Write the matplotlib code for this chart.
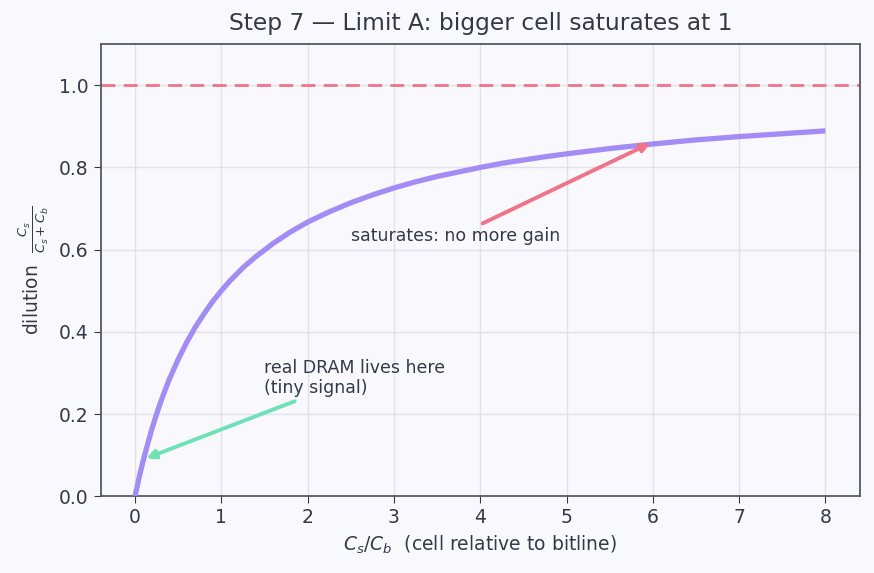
import matplotlib.pyplot as plt

plt.rcParams['font.family'] = ['DejaVu Sans']
plt.rcParams['mathtext.fontset'] = 'dejavusans'

# dilution curve
ratio = [0.0, 0.025, 0.05, 0.075, 0.1, 0.15, 0.2, 0.25, 0.3, 0.35, 0.4, 0.5, 0.6, 0.7, 0.8,
         0.9, 1.0, 1.1, 1.25, 1.4, 1.6, 1.8, 2.0, 2.25, 2.5, 2.75, 3.0, 3.25, 3.5, 3.75,
         4.0, 4.25, 4.5, 4.75, 5.0, 5.5, 6.0, 6.5, 7.0, 7.5, 8.0]
dilution = [0.0, 0.024, 0.048, 0.070, 0.091, 0.130, 0.167, 0.200, 0.231, 0.259, 0.286,
            0.333, 0.375, 0.412, 0.444, 0.474, 0.500, 0.524, 0.556, 0.583, 0.615, 0.643,
            0.667, 0.692, 0.714, 0.733, 0.750, 0.765, 0.778, 0.789, 0.800, 0.810, 0.818,
            0.826, 0.833, 0.846, 0.857, 0.867, 0.875, 0.882, 0.889]
limit = 1.0

bg = "#f9f9fd"
ink = "#333a47"
purple = "#a48cf5"
red = "#f07389"
green = "#6ee2b7"

fig, ax = plt.subplots(figsize=(8.74, 5.73), dpi=100)
fig.patch.set_facecolor(bg)
ax.set_facecolor(bg)

ax.plot(ratio, dilution, color=purple, lw=3.8, zorder=3, solid_capstyle='butt')
ax.axhline(limit, color=red, lw=2.0, ls=(0, (5, 3)), zorder=2)

ax.annotate("real DRAM lives here\n(tiny signal)", xy=(0.1, 0.09), xytext=(1.5, 0.25),
            fontsize=12.5, color=ink,
            arrowprops=dict(arrowstyle="-|>", color=green, lw=2.8, mutation_scale=13))
ax.annotate("saturates: no more gain", xy=(6.0, 0.862), xytext=(2.5, 0.62),
            fontsize=12.5, color=ink,
            arrowprops=dict(arrowstyle="-|>", color=red, lw=2.8, mutation_scale=13))

ax.set_xlim(-0.4, 8.4)
ax.set_ylim(0, 1.1)
ax.set_yticks([0, 0.2, 0.4, 0.6, 0.8, 1.0])
ax.grid(True, color="#dcdce2", lw=1.0, alpha=0.8)
ax.set_axisbelow(True)

ax.set_title("Step 7 — Limit A: bigger cell saturates at 1", fontsize=16.8, color=ink, pad=10)
ax.set_xlabel(r"$C_s/C_b$  (cell relative to bitline)", fontsize=13.5, color=ink, labelpad=5)
ax.set_ylabel(r"dilution  $\frac{C_s}{C_s+C_b}$", fontsize=13.5, color=ink, labelpad=6)
ax.tick_params(colors=ink, labelsize=13.5, length=5)
for s in ax.spines.values():
    s.set_color("#555a63")
    s.set_linewidth(1.3)

plt.subplots_adjust(left=0.115, right=0.984, top=0.923, bottom=0.134)
plt.savefig("out.png", dpi=100, facecolor=bg)
